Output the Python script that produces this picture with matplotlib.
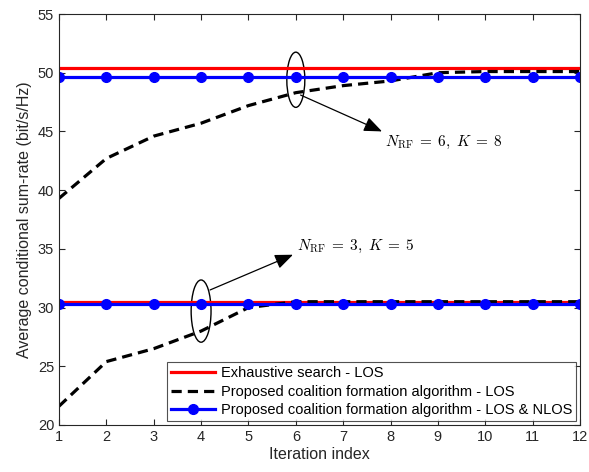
import matplotlib
matplotlib.use("Agg")
import matplotlib.pyplot as plt
from matplotlib.patches import Ellipse

plt.rcParams['font.family'] = ['Liberation Sans', 'DejaVu Sans']
plt.rcParams['mathtext.fontset'] = 'cm'

iterations = [1, 2, 3, 4, 5, 6, 7, 8, 9, 10, 11, 12]

# N_RF = 6, K = 8
exh_68 = [50.4] * 12
prop_los_68 = [39.3, 42.7, 44.6, 45.7, 47.2, 48.3, 48.9, 49.3, 50.0, 50.1, 50.1, 50.1]
prop_nlos_68 = [49.6] * 12

# N_RF = 3, K = 5
exh_35 = [30.5] * 12
prop_los_35 = [21.6, 25.4, 26.5, 28.0, 30.0, 30.5, 30.5, 30.5, 30.5, 30.5, 30.5, 30.5]
prop_nlos_35 = [30.3] * 12

labels = ["Exhaustive search - LOS",
          "Proposed coalition formation algorithm - LOS",
          "Proposed coalition formation algorithm - LOS & NLOS"]

fig = plt.figure(figsize=(5.89, 4.72), dpi=100)
ax = fig.add_axes([59/589, 1-425/472, (580-59)/589, (425-14)/472])

lw = 2.3
dash = (3.2, 1.9)
ax.plot(iterations, exh_68, color='red', lw=lw, label=labels[0])
ax.plot(iterations, prop_los_68, color='black', ls='--', lw=lw, dashes=dash, label=labels[1])
ax.plot(iterations, prop_nlos_68, color='blue', lw=lw, marker='o', ms=7, label=labels[2])

ax.plot(iterations, exh_35, color='red', lw=lw)
ax.plot(iterations, prop_los_35, color='black', ls='--', lw=lw, dashes=dash)
ax.plot(iterations, prop_nlos_35, color='blue', lw=lw, marker='o', ms=7)

ax.set_xlim(1, 12)
ax.set_ylim(20, 55)
ax.set_xticks(iterations)
ax.set_yticks([20, 25, 30, 35, 40, 45, 50, 55])
ax.tick_params(direction='in', top=True, right=True, labelsize=10.5, colors='#262626', length=4)
for s in ax.spines.values():
    s.set_color('#262626')
    s.set_linewidth(0.8)

ax.set_xlabel("Iteration index", fontsize=11.5, color='#262626', labelpad=2)
ax.set_ylabel("Average conditional sum-rate (bit/s/Hz)", fontsize=11.5, color='#262626', labelpad=4)

# ellipses
ax.add_patch(Ellipse((6, 49.4), 0.38, 4.7, fill=False, ec='black', lw=1.0))
ax.add_patch(Ellipse((4, 29.7), 0.42, 5.3, fill=False, ec='black', lw=1.0))

arrow = dict(arrowstyle='-|>,head_length=1.1,head_width=0.45', color='black', lw=0.9,
             shrinkA=0, shrinkB=0)
ax.annotate("", xy=(7.82, 45.0), xytext=(6.1, 48.1), arrowprops=arrow)
ax.annotate("", xy=(5.94, 34.5), xytext=(4.19, 31.5), arrowprops=arrow)

txt1 = r"$N_{\rm RF}\;=\;6,\;K\;=\;8$"
txt2 = r"$N_{\rm RF}\;=\;3,\;K\;=\;5$"
ax.text(7.88, 44.1, txt1, fontsize=11, va='center', ha='left')
ax.text(6.03, 35.2, txt2, fontsize=11, va='center', ha='left')

leg = ax.legend(loc='lower right', fontsize=10.5, frameon=True, fancybox=False,
                edgecolor='#262626', borderpad=0.3, labelspacing=0.3,
                handlelength=3.0, borderaxespad=0.25, handletextpad=0.4)
leg.get_frame().set_linewidth(0.8)

fig.savefig("out.png", dpi=100)
